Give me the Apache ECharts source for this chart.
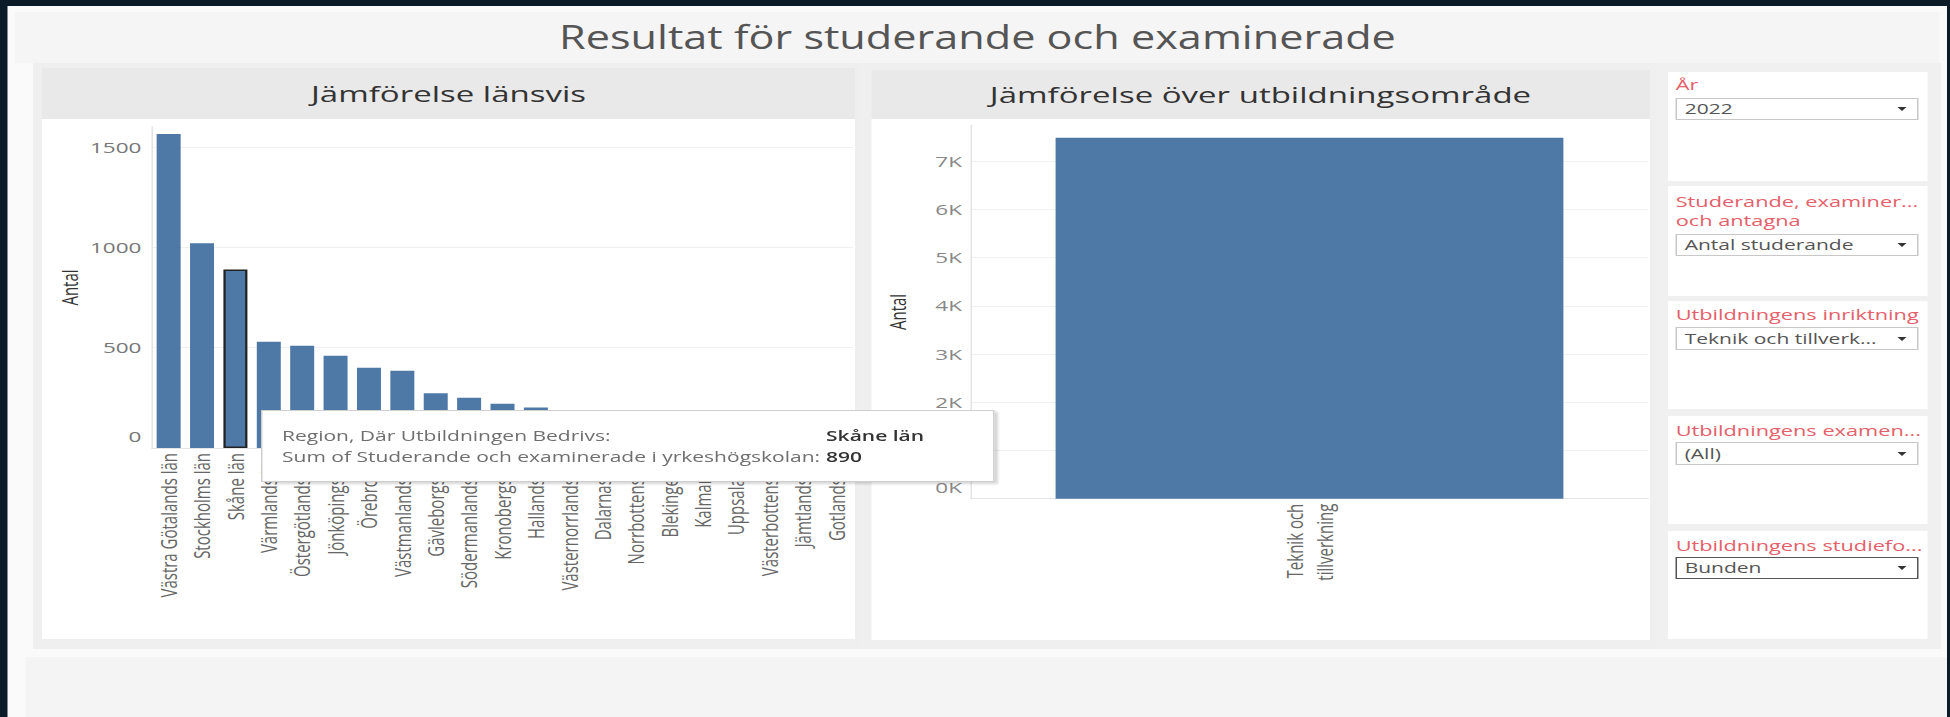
<!DOCTYPE html>
<html>
<head>
<meta charset="utf-8">
<title>Resultat för studerande och examinerade</title>
<script src="https://cdn.jsdelivr.net/npm/echarts/dist/echarts.min.js"></script>
<style>
  body { margin: 0; width: 1950px; height: 717px; overflow: hidden; background: #0b1c28; font-family: 'Open Sans', sans-serif; }
  /* the reference screenshot is stretched sideways, so the whole page is laid out narrow and scaled */
  #wrap { position: absolute; left: 0; top: 0; width: 1300px; height: 717px; transform: scaleX(1.5); transform-origin: 0 0; }
  .box { position: absolute; }
  .head { position: absolute; text-align: center; font-size: 22px; color: #333; }
  .flabel { position: absolute; left: 1117.1px; font-size: 14.5px; font-weight: 400; line-height: 20px; color: #e4606a; white-space: nowrap; }
  .dd { position: absolute; left: 1117.1px; width: 162.4px; box-sizing: border-box; border: 1px solid #c8c8c8; background: #fff;
        font-size: 14px; color: #555; padding-left: 5px; white-space: nowrap; }
  .dd i { position: absolute; right: 7px; top: 50%; margin-top: -2px; width: 0; height: 0;
          border-left: 3px solid transparent; border-right: 3px solid transparent; border-top: 4px solid #333; }
  #chart { position: absolute; left: 0; top: 0; width: 1300px; height: 717px; z-index: 5; }
</style>
</head>
<body>
<div id="wrap">
  <div class="box" style="left:4.67px;top:6px;width:1293.3px;height:711px;background:#fafafa"></div>
  <div class="box" style="left:10px;top:12px;width:1283.3px;height:51px;background:#f5f5f5"></div>
  <div class="box" style="left:10px;top:10.6px;width:1283.3px;height:52px;line-height:52px;text-align:center;font-size:32px;color:#555;transform:scaleX(0.9);transform-origin:50% 50%">Resultat för studerande och examinerade</div>

  <!-- left panel -->
  <div class="box" style="left:22px;top:63px;width:553.3px;height:586px;background:#efefef"></div>
  <div class="box" style="left:28px;top:68px;width:542px;height:51px;background:#e9e9e9"></div>
  <div class="head" style="left:28px;top:68px;width:542px;height:51px;line-height:51px">Jämförelse länsvis</div>
  <div class="box" style="left:28px;top:119px;width:542px;height:520px;background:#fff"></div>

  <!-- right panel -->
  <div class="box" style="left:575.3px;top:63px;width:530px;height:586px;background:#efefef"></div>
  <div class="box" style="left:580.7px;top:70px;width:519.3px;height:49px;background:#e9e9e9"></div>
  <div class="head" style="left:580.7px;top:70px;width:519.3px;height:49px;line-height:49px">Jämförelse över utbildningsområde</div>
  <div class="box" style="left:580.7px;top:119px;width:519.3px;height:521px;background:#fff"></div>

  <!-- filters -->
  <div class="box" style="left:1105.3px;top:63px;width:188.7px;height:586px;background:#f0f0f0"></div>
  <div class="box" style="left:1112px;top:71.5px;width:173.3px;height:109px;background:#fff"></div>
  <div class="box" style="left:1112px;top:186px;width:173.3px;height:109.5px;background:#fff"></div>
  <div class="box" style="left:1112px;top:300.6px;width:173.3px;height:108.8px;background:#fff"></div>
  <div class="box" style="left:1112px;top:416px;width:173.3px;height:108px;background:#fff"></div>
  <div class="box" style="left:1112px;top:530.5px;width:173.3px;height:108px;background:#fff"></div>

  <div class="flabel" style="top:75px">År</div>
  <div class="dd" style="top:98px;height:22px;line-height:20px">2022<i></i></div>

  <div class="flabel" style="top:192.2px;line-height:19.2px">Studerande, examiner...<br>och antagna</div>
  <div class="dd" style="top:234px;height:22px;line-height:20px">Antal studerande<i></i></div>

  <div class="flabel" style="top:304.8px">Utbildningens inriktning</div>
  <div class="dd" style="top:327px;height:23px;line-height:21px">Teknik och tillverk...<i></i></div>

  <div class="flabel" style="top:420.5px">Utbildningens examen...</div>
  <div class="dd" style="top:442px;height:23px;line-height:21px">(All)<i></i></div>

  <div class="flabel" style="top:535.8px">Utbildningens studiefo...</div>
  <div class="dd" style="top:557px;height:22px;line-height:20px;border-color:#555">Bunden<i></i></div>

  <!-- empty band at the bottom -->
  <div class="box" style="left:16.7px;top:657px;width:1281.3px;height:60px;background:#f4f4f4"></div>

  <div id="chart"></div>
</div>

<script>
var regions = ['Västra Götalands län', 'Stockholms län', 'Skåne län', 'Värmlands län', 'Östergötlands län',
  'Jönköpings län', 'Örebro län', 'Västmanlands län', 'Gävleborgs län', 'Södermanlands län', 'Kronobergs län',
  'Hallands län', 'Västernorrlands län', 'Dalarnas län', 'Norrbottens län', 'Blekinge län', 'Kalmar län',
  'Uppsala län', 'Västerbottens län', 'Jämtlands län', 'Gotlands län'];
var regionValues = [1565, 1020, 890, 530, 510, 460, 400, 385, 273, 250, 220, 202, 175, 160, 140, 125, 105, 90, 75, 55, 35];

var areas = ['Teknik och tillverkning'];
var areaValues = [7490];

var regionAxisMax = 1600, regionAxisStep = 500;
var areaAxisMax = 7750, areaAxisStep = 1000;

var selectedRegion = 'Skåne län';
var tipLabels = ['Region, Där Utbildningen Bedrivs:', 'Sum of Studerande och examinerade i yrkeshögskolan:'];

var blue = '#4e79a7';

// zero label sits a bit above the baseline, like Tableau does
function zeroRich(text) {
  return '{z|' + text + '}';
}

var chart = echarts.init(document.getElementById('chart'), null, { renderer: 'svg' });

var option = {
  animation: false,
  backgroundColor: 'transparent',
  textStyle: { fontFamily: 'Open Sans' },
  grid: [
    { left: 101.3, top: 127, width: 467.4, height: 321, outerBoundsMode: 'none' },
    { left: 647.3, top: 125.2, width: 451.4, height: 373.5, outerBoundsMode: 'none' }
  ],
  xAxis: [
    {
      type: 'category',
      gridIndex: 0,
      data: regions,
      axisTick: { show: false },
      axisLine: { lineStyle: { color: '#e4e4e4' } },
      axisLabel: { interval: 0, rotate: 90, margin: 5, fontSize: 15, color: '#666' }
    },
    {
      type: 'category',
      gridIndex: 1,
      data: areas,
      axisTick: { show: false },
      axisLine: { lineStyle: { color: '#e4e4e4' } },
      axisLabel: {
        interval: 0, rotate: 90, margin: 5, fontSize: 15, lineHeight: 20, color: '#666',
        formatter: function (v) { return v.replace('och ', 'och\n'); }
      }
    }
  ],
  yAxis: [
    {
      type: 'value',
      gridIndex: 0,
      min: 0,
      max: regionAxisMax,
      interval: regionAxisStep,
      name: 'Antal',
      nameLocation: 'middle',
      nameGap: 47.5,
      nameTextStyle: { fontSize: 15, color: '#333' },
      axisLine: { show: true, lineStyle: { color: '#e4e4e4' } },
      axisTick: { show: false },
      splitLine: { lineStyle: { color: '#f0f0f0' }, showMaxLine: false, showMinLine: false },
      axisLabel: {
        showMaxLabel: false, margin: 7, fontSize: 15, color: '#777',
        formatter: function (v) { return v === 0 ? zeroRich('0') : String(v); },
        rich: { z: { fontSize: 15, color: '#777', padding: [0, 0, 23, 0] } }
      }
    },
    {
      type: 'value',
      gridIndex: 1,
      min: 0,
      max: areaAxisMax,
      interval: areaAxisStep,
      name: 'Antal',
      nameLocation: 'middle',
      nameGap: 41.5,
      nameTextStyle: { fontSize: 15, color: '#333' },
      axisLine: { show: true, lineStyle: { color: '#e4e4e4' } },
      axisTick: { show: false },
      splitLine: { lineStyle: { color: '#f0f0f0' }, showMaxLine: false },
      axisLabel: {
        showMaxLabel: false, margin: 6, fontSize: 15, color: '#888',
        formatter: function (v) { return v === 0 ? zeroRich('0K') : (v / 1000) + 'K'; },
        rich: { z: { fontSize: 15, color: '#888', padding: [0, 0, 23, 0] } }
      }
    }
  ],
  tooltip: {
    trigger: 'item',
    triggerOn: 'none',
    alwaysShowContent: true,
    transitionDuration: 0,
    position: [174.3, 410],
    padding: [13.5, 13, 0, 13],
    backgroundColor: '#fff',
    borderColor: '#cfcfcf',
    borderWidth: 1,
    borderRadius: 0,
    textStyle: { fontFamily: 'Open Sans', fontSize: 14, color: '#6f6f6f' },
    extraCssText: 'box-shadow:2px 2px 2px rgba(0,0,0,0.16);width:489px;height:72px;box-sizing:border-box;',
    formatter: function (p) {
      var val = 'font-weight:600;color:#333;padding:0 0 0 4px;';
      return '<table style="border-collapse:collapse;line-height:21px;font-size:14px">' +
        '<tr><td style="padding:0">' + tipLabels[0] + '</td><td style="' + val + '">' + p.name + '</td></tr>' +
        '<tr><td style="padding:0">' + tipLabels[1] + '</td><td style="' + val + '">' + p.value + '</td></tr>' +
        '</table>';
    }
  },
  series: [
    {
      type: 'bar',
      xAxisIndex: 0,
      yAxisIndex: 0,
      barWidth: 16,
      itemStyle: { color: blue },
      data: regionValues.map(function (v, i) {
        if (regions[i] === selectedRegion) {
          return { value: v, itemStyle: { borderColor: '#222', borderWidth: 1.5 } };
        }
        return v;
      })
    },
    {
      type: 'bar',
      xAxisIndex: 1,
      yAxisIndex: 1,
      barWidth: '75%',
      itemStyle: { color: blue },
      tooltip: { show: false },
      data: areaValues
    }
  ]
};

chart.setOption(option);
chart.dispatchAction({ type: 'showTip', seriesIndex: 0, dataIndex: regions.indexOf(selectedRegion) });
</script>
</body>
</html>
